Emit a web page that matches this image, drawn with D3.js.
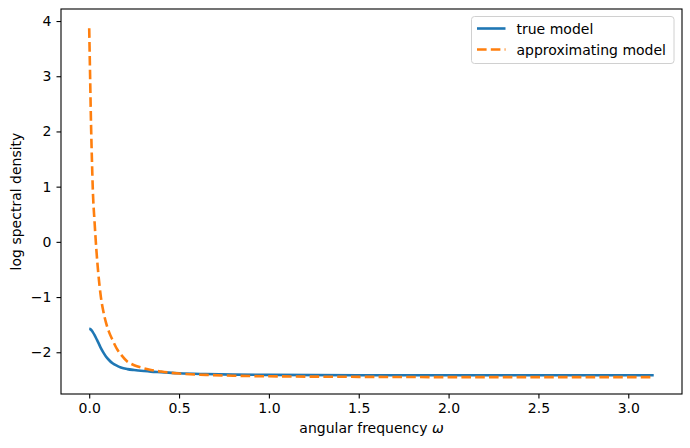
<!DOCTYPE html>
<html>
<head>
<meta charset="utf-8">
<script src="https://cdn.jsdelivr.net/npm/d3@7"></script>
<style>
  body { margin: 0; background: #fff; }
  svg text { font-family: "DejaVu Sans", sans-serif; fill: #000; }
</style>
</head>
<body>
<div id="chart"></div>
<script>
// angular frequency grid
var omega = [0, 0.005, 0.01, 0.015, 0.02, 0.03, 0.04, 0.05, 0.065, 0.08, 0.093, 0.11, 0.13,
             0.158, 0.176, 0.213, 0.25, 0.305, 0.343, 0.40, 0.50, 0.65, 0.80, 1.0, 1.5, 2.0, 2.5, 3.1416];

// log spectral density, true model
var trueModel = [-1.577, -1.58, -1.592, -1.61, -1.635, -1.69, -1.755, -1.82, -1.925, -2.01, -2.075, -2.14, -2.20,
                 -2.25, -2.275, -2.305, -2.322, -2.34, -2.35, -2.36, -2.38, -2.395, -2.405, -2.41, -2.415, -2.416, -2.417, -2.417];

// log spectral density, approximating model
var approxModel = [3.87, 3.0, 2.15, 1.5, 0.95, 0.35, -0.15, -0.55, -1.0, -1.28, -1.46, -1.63, -1.78,
                   -1.96, -2.04, -2.17, -2.235, -2.29, -2.32, -2.35, -2.385, -2.41, -2.425, -2.435, -2.445, -2.45, -2.45, -2.45];

var xTicks = [0.0, 0.5, 1.0, 1.5, 2.0, 2.5, 3.0];
var yTicks = [-2, -1, 0, 1, 2, 3, 4];

var seriesNames = ["true model", "approximating model"];
var seriesColors = ["#1f77b4", "#ff7f0e"];

// #####################################################
// Plot
//
var W = 690, H = 448;
var margin = {top: 9, right: 8, bottom: 54, left: 61};
var width = W - margin.left - margin.right,
    height = H - margin.top - margin.bottom;

var svg = d3.select("#chart").append("svg")
    .attr("width", W)
    .attr("height", H)
  .append("g")
    .attr("transform", "translate(" + margin.left + "," + margin.top + ")");

var x = d3.scaleLinear().domain([-0.157, 3.299]).range([0, width]);
var y = d3.scaleLinear().domain([-2.756, 4.218]).range([height, 0]);

var line = d3.line()
    .x(function(d) { return x(d[0]); })
    .y(function(d) { return y(d[1]); })
    .curve(d3.curveMonotoneX);

var trueData = omega.map(function(w, i) { return [w, trueModel[i]]; });
var approxData = omega.map(function(w, i) { return [w, approxModel[i]]; });

svg.append("path")
    .datum(trueData)
    .attr("d", line)
    .attr("fill", "none")
    .attr("stroke", seriesColors[0])
    .attr("stroke-width", 2.6);

svg.append("path")
    .datum(approxData)
    .attr("d", line)
    .attr("fill", "none")
    .attr("stroke", seriesColors[1])
    .attr("stroke-width", 2.6)
    .attr("stroke-dasharray", "9.6,4.2");

// axes
var xAxis = svg.append("g")
    .attr("transform", "translate(0," + height + ")")
    .call(d3.axisBottom(x).tickValues(xTicks).tickFormat(d3.format(".1f")).tickSize(4.5).tickPadding(5));
var yAxis = svg.append("g")
    .call(d3.axisLeft(y).tickValues(yTicks).tickFormat(function(d) { return d < 0 ? "\u2212" + Math.abs(d) : d; }).tickSize(4.5).tickPadding(5));

[xAxis, yAxis].forEach(function(a) {
  a.select(".domain").remove();
  a.selectAll("line").attr("stroke", "#000").attr("stroke-width", 1.1);
  a.selectAll("text").style("font-size", "14px").style("font-family", "DejaVu Sans");
});

// frame
svg.append("rect")
    .attr("width", width)
    .attr("height", height)
    .attr("fill", "none")
    .attr("stroke", "#000")
    .attr("stroke-width", 1.1);

// labels
var xlab = svg.append("text")
    .attr("x", width / 2)
    .attr("y", height + 38.7)
    .attr("text-anchor", "middle")
    .style("font-size", "14px");
xlab.append("tspan").text("angular frequency ");
xlab.append("tspan").style("font-style", "italic").text("\u03c9");

svg.append("text")
    .attr("transform", "translate(" + (20.5 - margin.left) + "," + (height / 2) + ") rotate(-90)")
    .attr("text-anchor", "middle")
    .style("font-size", "14px")
    .text("log spectral density");

// legend
var leg = svg.append("g").attr("transform", "translate(" + (471.5 - margin.left) + "," + (16.5 - margin.top) + ")");
leg.append("rect")
    .attr("width", 202.5)
    .attr("height", 47)
    .attr("rx", 3)
    .attr("fill", "#fff")
    .attr("fill-opacity", 0.8)
    .attr("stroke", "#d0d0d0")
    .attr("stroke-width", 1);

seriesNames.forEach(function(name, i) {
  var cy = 12 + i * 21;
  leg.append("line")
      .attr("x1", 5.5).attr("x2", 34)
      .attr("y1", cy).attr("y2", cy)
      .attr("stroke", seriesColors[i])
      .attr("stroke-width", 2.6)
      .attr("stroke-dasharray", i == 1 ? "9.6,4.2" : null);
  leg.append("text")
      .attr("x", 45)
      .attr("y", cy + 5)
      .style("font-size", "14px")
      .text(name);
});
</script>
</body>
</html>
